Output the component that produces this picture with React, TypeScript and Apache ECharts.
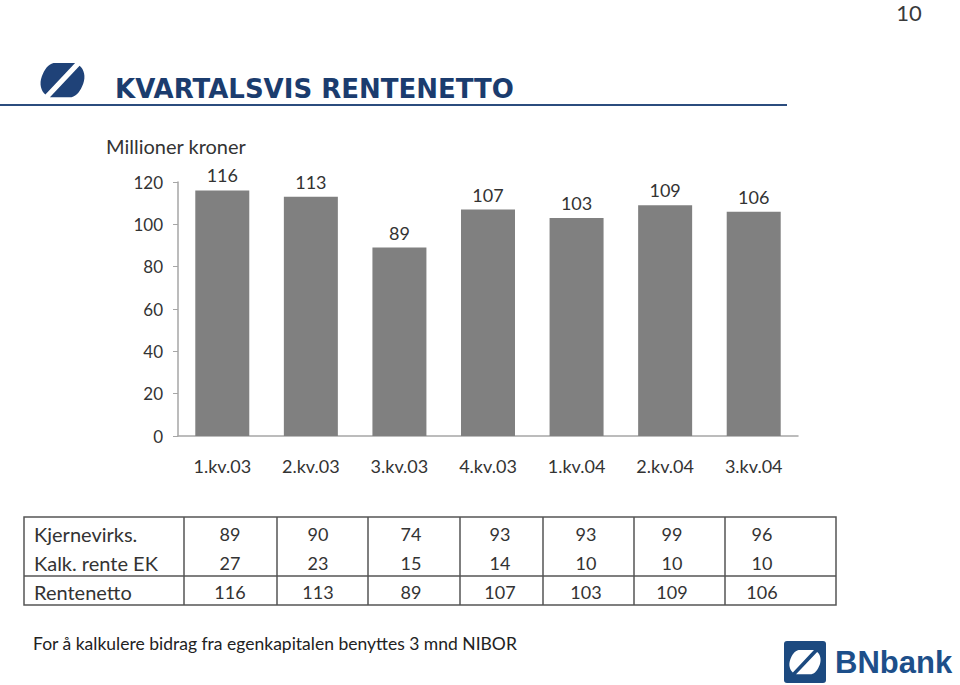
import React, { useEffect, useRef } from "react";
import * as echarts from "echarts";

const categories = ["1.kv.03", "2.kv.03", "3.kv.03", "4.kv.03", "1.kv.04", "2.kv.04", "3.kv.04"];
const rentenetto = [116, 113, 89, 107, 103, 109, 106];
const kjernevirks = [89, 90, 74, 93, 93, 99, 96];
const kalkRenteEK = [27, 23, 15, 14, 10, 10, 10];
const rowLabels = ["Kjernevirks.", "Kalk. rente EK", "Rentenetto"];
const tableRows = [kjernevirks, kalkRenteEK, rentenetto];

const titleText = "KVARTALSVIS RENTENETTO";
const unitText = "Millioner kroner";
const footerText = "For å kalkulere bidrag fra egenkapitalen benyttes 3 mnd NIBOR";
const pageNumber = "10";

// layout (positions only)
const colBounds = [24, 184, 277, 368, 460, 543, 634, 725, 836];
const colTextX = [230, 318, 411, 500, 586, 672, 762];
const rowTextY = [534, 563, 592];
const tableTop = 517;
const tableMid = 576;
const tableBottom = 605;

const LOGO_D =
  "M30 0 L78 0 L12 70 C2 62 -2 46 4 30 C10 14 18 3 30 0 Z " +
  "M70 76 L22 76 L88 6 C98 14 102 30 96 46 C90 62 82 73 70 76 Z";

let registered = false;
function registerLogo() {
  if (registered) return;
  registered = true;
  echarts.graphic.registerShape("bnlogo", echarts.graphic.extendPath(LOGO_D, {}) as any);
}

const FONT = "Lato, 'Open Sans', sans-serif";
const TXT = "#333333";

export default function App() {
  const ref = useRef<HTMLDivElement>(null);
  useEffect(() => {
    registerLogo();
    const chart = echarts.init(ref.current!, undefined, { renderer: "svg" });
    const graphics: any[] = [];
    graphics.push({
      type: "text",
      style: { text: pageNumber, x: 909, y: 12, align: "center", verticalAlign: "middle", font: `22px ${FONT}`, fill: "#3a3a3a" },
    });
    graphics.push({ type: "bnlogo", x: 40, y: 63, scaleX: 0.45, scaleY: 0.45, style: { fill: "#1f4278" } });
    graphics.push({
      type: "text",
      style: { text: titleText, x: 115, y: 89, align: "left", verticalAlign: "middle", font: `bold 26px 'DejaVu Sans', sans-serif`, fill: "#1b3c6e" },
    });
    graphics.push({ type: "line", shape: { x1: 0, y1: 105, x2: 787, y2: 105 }, style: { stroke: "#2b4c7e", lineWidth: 2 } });
    graphics.push({
      type: "text",
      style: { text: unitText, x: 106, y: 146, align: "left", verticalAlign: "middle", font: `20px ${FONT}`, fill: TXT },
    });
    graphics.push({
      type: "rect",
      shape: { x: colBounds[0], y: tableTop, width: colBounds[colBounds.length - 1] - colBounds[0], height: tableBottom - tableTop },
      style: { fill: "none", stroke: "#555555", lineWidth: 1.5 },
    });
    graphics.push({
      type: "line",
      shape: { x1: colBounds[0], y1: tableMid, x2: colBounds[colBounds.length - 1], y2: tableMid },
      style: { stroke: "#555555", lineWidth: 1.5 },
    });
    for (let i = 1; i < colBounds.length - 1; i++) {
      graphics.push({
        type: "line",
        shape: { x1: colBounds[i], y1: tableTop, x2: colBounds[i], y2: tableBottom },
        style: { stroke: "#555555", lineWidth: 1.5 },
      });
    }
    rowLabels.forEach((lab, r) => {
      graphics.push({
        type: "text",
        style: { text: lab, x: 34, y: rowTextY[r], align: "left", verticalAlign: "middle", font: `20px ${FONT}`, fill: TXT },
      });
      tableRows[r].forEach((v, c) => {
        graphics.push({
          type: "text",
          style: { text: String(v), x: colTextX[c], y: rowTextY[r], align: "center", verticalAlign: "middle", font: `18px ${FONT}`, fill: TXT },
        });
      });
    });
    graphics.push({
      type: "text",
      style: { text: footerText, x: 33, y: 643, align: "left", verticalAlign: "middle", font: `17.5px ${FONT}`, fill: "#222222" },
    });
    graphics.push({ type: "rect", shape: { x: 784, y: 641, width: 42, height: 42, r: 3 }, style: { fill: "#1c4a80" } });
    graphics.push({ type: "bnlogo", x: 789, y: 650, scaleX: 0.32, scaleY: 0.32, style: { fill: "#ffffff" } });
    graphics.push({
      type: "text",
      style: { text: "BNbank", x: 835, y: 662, align: "left", verticalAlign: "middle", font: `bold 31px 'Liberation Sans', Arial, sans-serif`, fill: "#1d4f8a" },
    });

    chart.setOption({
      animation: false,
      backgroundColor: "#ffffff",
      textStyle: { fontFamily: FONT },
      grid: { left: 178, right: 162, top: 182, bottom: 249, containLabel: false },
      xAxis: {
        type: "category",
        data: categories,
        axisLine: { show: true, lineStyle: { color: "#a6a6a6", width: 1.5 } },
        axisTick: { show: false },
        axisLabel: { color: TXT, fontSize: 18, margin: 21, fontFamily: FONT },
      },
      yAxis: {
        type: "value",
        min: 0,
        max: 120,
        interval: 20,
        axisLine: { show: true, lineStyle: { color: "#a6a6a6", width: 1.5 } },
        axisTick: { show: true, length: 5, lineStyle: { color: "#a6a6a6" } },
        axisLabel: { color: TXT, fontSize: 17, margin: 15, fontFamily: FONT },
        splitLine: { show: false },
      },
      series: [
        {
          type: "bar",
          data: rentenetto,
          barWidth: 54,
          itemStyle: { color: "#808080" },
          label: { show: true, position: "top", distance: 6, color: TXT, fontSize: 18, fontFamily: FONT },
        },
      ],
      graphic: { elements: graphics },
    });
    return () => chart.dispose();
  }, []);
  return <div ref={ref} style={{ position: "fixed", left: 0, top: 0, width: 960, height: 685 }} />;
}
